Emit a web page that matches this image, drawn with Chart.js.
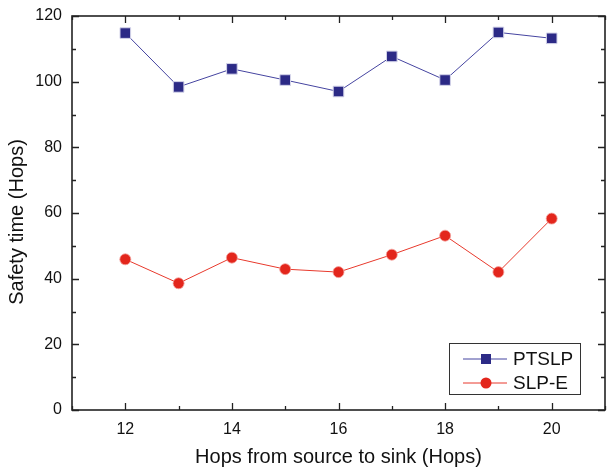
<!DOCTYPE html>
<html>
<head>
<meta charset="utf-8">
<script src="https://cdn.jsdelivr.net/npm/chart.js@4/dist/chart.umd.min.js"></script>
<style>
  html, body { margin: 0; padding: 0; background: #fff; }
  #wrap { width: 608px; height: 469px; }
</style>
</head>
<body>
<div id="wrap"><canvas id="chart" width="608" height="469"></canvas></div>
<script>
// data
const hops = [12, 13, 14, 15, 16, 17, 18, 19, 20];
const ptslp = [114.8, 98.4, 103.9, 100.5, 97.0, 107.7, 100.5, 115.0, 113.2];
const slpE = [45.9, 38.6, 46.4, 42.9, 42.0, 47.3, 53.1, 42.0, 58.3];
const xMajor = [12, 14, 16, 18, 20];
const yMajor = [0, 20, 40, 60, 80, 100, 120];
const yTitle = 'Safety time (Hops)';

const FONT = 'Arial, "Liberation Sans", sans-serif';
const AXIS = '#222';

// frame and inward ticks, like the original plot
const framePlugin = {
    id: 'frame',
    afterDraw(chart) {
        const ctx = chart.ctx;
        const a = chart.chartArea;
        const xs = chart.scales.x, ys = chart.scales.y;
        ctx.save();
        ctx.strokeStyle = AXIS;
        ctx.lineWidth = 1.6;
        ctx.strokeRect(a.left, a.top, a.right - a.left, a.bottom - a.top);

        ctx.lineWidth = 1.3;
        ctx.beginPath();
        for (let v = 11; v <= 21; v++) {
            const px = Math.round(xs.getPixelForValue(v)) + 0.5;
            const len = xMajor.includes(v) ? 7 : 4;
            ctx.moveTo(px, a.bottom); ctx.lineTo(px, a.bottom - len);
            ctx.moveTo(px, a.top); ctx.lineTo(px, a.top + len);
        }
        for (let v = 0; v <= 120; v += 10) {
            const py = Math.round(ys.getPixelForValue(v)) + 0.5;
            const len = yMajor.includes(v) ? 7 : 4;
            ctx.moveTo(a.left, py); ctx.lineTo(a.left + len, py);
            ctx.moveTo(a.right, py); ctx.lineTo(a.right - len, py);
        }
        ctx.stroke();

        // y title, sits a bit below the middle of the axis in the original
        ctx.save();
        ctx.translate(17, (a.top + a.bottom) / 2 + 9);
        ctx.rotate(-Math.PI / 2);
        ctx.fillStyle = '#111';
        ctx.font = '20px ' + FONT;
        ctx.textAlign = 'center';
        ctx.textBaseline = 'middle';
        ctx.fillText(yTitle, 0, 0);
        ctx.restore();

        // legend box inside the plot, bottom right
        const bx = a.right - 156, by = a.bottom - 67, bw = 131, bh = 51;
        ctx.fillStyle = '#fff';
        ctx.fillRect(bx, by, bw, bh);
        ctx.lineWidth = 1;
        ctx.strokeStyle = '#333';
        ctx.strokeRect(bx + 0.5, by + 0.5, bw, bh);
        chart.data.datasets.forEach((ds, i) => {
            const ly = by + 16 + i * 24;
            ctx.strokeStyle = ds.borderColor;
            ctx.lineWidth = 1;
            ctx.beginPath();
            ctx.moveTo(bx + 14, ly); ctx.lineTo(bx + 58, ly);
            ctx.stroke();
            ctx.fillStyle = ds.pointBackgroundColor;
            if (ds.pointStyle === 'rect') {
                ctx.fillRect(bx + 32, ly - 5, 10, 10);
            } else {
                ctx.beginPath();
                ctx.arc(bx + 37, ly, 5.5, 0, Math.PI * 2);
                ctx.fill();
            }
            ctx.fillStyle = '#111';
            ctx.font = '19px ' + FONT;
            ctx.textBaseline = 'middle';
            ctx.textAlign = 'left';
            ctx.fillText(ds.label, bx + 64, ly + 1);
        });
        ctx.restore();
    }
};

new Chart(document.getElementById('chart'), {
    type: 'line',
    data: {
        datasets: [{
            label: 'PTSLP',
            data: hops.map((h, i) => ({ x: h, y: ptslp[i] })),
            borderColor: '#4544a0',
            borderWidth: 1,
            pointStyle: 'rect',
            pointRadius: 7.5,
            pointBackgroundColor: '#2c2a86',
            pointBorderColor: '#d4d4ea',
            pointBorderWidth: 1,
            tension: 0
        }, {
            label: 'SLP-E',
            data: hops.map((h, i) => ({ x: h, y: slpE[i] })),
            borderColor: '#e8392c',
            borderWidth: 1,
            pointStyle: 'circle',
            pointRadius: 5.5,
            pointBackgroundColor: '#e3261c',
            pointBorderColor: '#f4a09a',
            pointBorderWidth: 0.8,
            tension: 0
        }]
    },
    options: {
        responsive: false,
        animation: false,
        layout: { autoPadding: false, padding: { top: 16, right: 3, left: 0, bottom: 0 } },
        plugins: { legend: { display: false }, tooltip: { enabled: false } },
        scales: {
            x: {
                type: 'linear',
                min: 11, max: 21,
                grid: { display: false, drawTicks: false },
                border: { display: false },
                afterFit(s) { s.height = 59; s.paddingLeft = 0; s.paddingRight = 0; },
                ticks: {
                    stepSize: 1, autoSkip: false, maxRotation: 0,
                    padding: 10,
                    color: '#111',
                    font: { family: FONT, size: 16 },
                    callback: v => xMajor.includes(v) ? String(v) : ''
                },
                title: {
                    display: true,
                    text: 'Hops from source to sink (Hops)',
                    color: '#111',
                    font: { family: FONT, size: 20 },
                    padding: { top: 0, bottom: 0 }
                }
            },
            y: {
                min: 0, max: 120,
                grid: { display: false, drawTicks: false },
                border: { display: false },
                afterFit(s) { s.width = 72; s.paddingTop = 0; s.paddingBottom = 0; },
                ticks: {
                    stepSize: 10, autoSkip: false,
                    padding: 10,
                    color: '#111',
                    font: { family: FONT, size: 16 },
                    callback: v => yMajor.includes(v) ? String(v) : ''
                }
            }
        }
    },
    plugins: [framePlugin]
});
</script>
</body>
</html>
